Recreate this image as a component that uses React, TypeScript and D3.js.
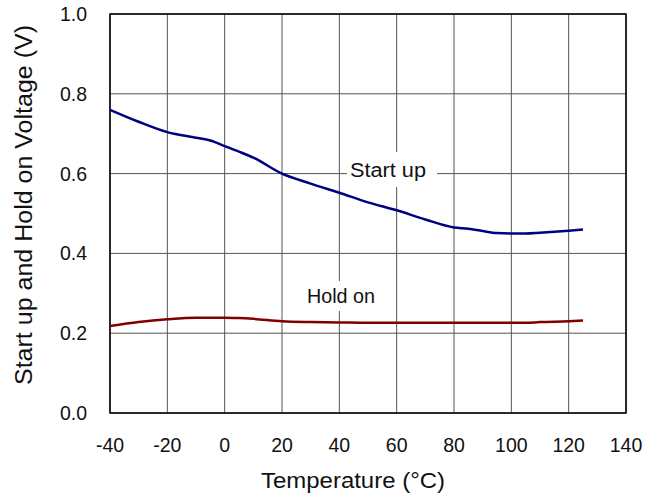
import React from 'react';
import * as d3 from 'd3';

const temps = [-40, -30, -20, -10, -5, 0, 5, 10, 20, 30, 40, 50, 60, 70, 80, 85, 90, 95, 100, 105, 110, 120, 125];
const startUp = [0.76, 0.73, 0.704, 0.69, 0.683, 0.669, 0.655, 0.64, 0.6, 0.575, 0.552, 0.528, 0.508, 0.485, 0.465, 0.462, 0.456, 0.451, 0.45, 0.45, 0.452, 0.457, 0.46];
const holdOn = [0.218, 0.228, 0.235, 0.239, 0.239, 0.239, 0.238, 0.236, 0.23, 0.228, 0.227, 0.226, 0.226, 0.226, 0.226, 0.226, 0.226, 0.226, 0.226, 0.226, 0.228, 0.23, 0.232];
const xTicks = [-40, -20, 0, 20, 40, 60, 80, 100, 120, 140];
const yTicks = [0, 0.2, 0.4, 0.6, 0.8, 1.0];

const W = 661;
const H = 499;
const margin = { top: 14, right: 35, bottom: 86, left: 110 };
const font = 'Arial, "Liberation Sans", sans-serif';

const App = () => {
  const x = d3.scaleLinear().domain([-40, 140]).range([margin.left, W - margin.right]);
  const y = d3.scaleLinear().domain([0, 1]).range([H - margin.bottom, margin.top]);

  const line = (vals: number[]) =>
    d3.line<number>()
      .x((_, i) => x(temps[i]))
      .y(d => y(d))
      .curve(d3.curveMonotoneX)(vals) || '';

  return (
    <svg width={W} height={H} style={{ position: 'absolute', left: 0, top: 0, background: '#fff' }}>
      {/* grid */}
      {xTicks.map(t => (
        <line key={'gx' + t} x1={x(t)} x2={x(t)} y1={y(0)} y2={y(1)} stroke="#555" strokeWidth={1} />
      ))}
      {yTicks.map(t => (
        <line key={'gy' + t} x1={x(-40)} x2={x(140)} y1={y(t)} y2={y(t)} stroke="#555" strokeWidth={1} />
      ))}
      <rect x={x(-40)} y={y(1)} width={x(140) - x(-40)} height={y(0) - y(1)} fill="none" stroke="#000" strokeWidth={1.5} />

      {/* series labels with white backing */}
      <rect x={347} y={152} width={90} height={35} fill="#fff" />
      <text x={350} y={177} fontFamily={font} fontSize={19.5} textLength={76} lengthAdjust="spacingAndGlyphs" fill="#111">Start  up</text>
      <rect x={300} y={281} width={78} height={30} fill="#fff" />
      <text x={307} y={303} fontFamily={font} fontSize={19.5} textLength={68} lengthAdjust="spacingAndGlyphs" fill="#111">Hold on</text>

      <path d={line(startUp)} fill="none" stroke="#000080" strokeWidth={2.5} />
      <path d={line(holdOn)} fill="none" stroke="#800000" strokeWidth={2.5} />

      {/* tick labels */}
      {xTicks.map(t => (
        <text key={'tx' + t} x={x(t)} y={y(0) + 39} textAnchor="middle" fontFamily={font} fontSize={19.5} fill="#111">{t}</text>
      ))}
      {yTicks.map(t => (
        <text key={'ty' + t} x={87} y={y(t) + 7} textAnchor="end" fontFamily={font} fontSize={19.5} fill="#111">{t.toFixed(1)}</text>
      ))}

      <text x={353} y={488} textAnchor="middle" fontFamily={font} fontSize={22} textLength={184} lengthAdjust="spacingAndGlyphs" fill="#111">Temperature (°C)</text>
      <text transform={`translate(32,205) rotate(-90)`} textAnchor="middle" fontFamily={font} fontSize={23.5} textLength={360} lengthAdjust="spacingAndGlyphs" fill="#111">Start up and Hold on Voltage (V)</text>
    </svg>
  );
};

export default App;
